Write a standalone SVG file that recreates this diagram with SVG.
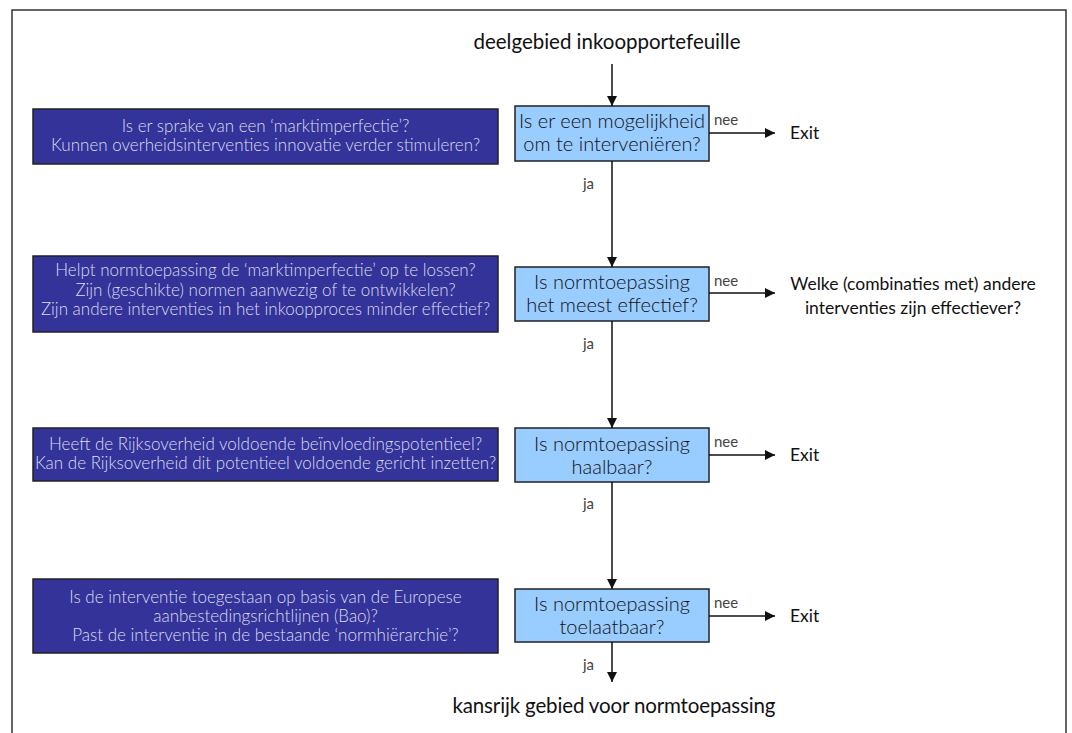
<svg xmlns="http://www.w3.org/2000/svg" width="1072" height="733" viewBox="0 0 1072 733">
  <defs>
    <marker id="arrow" viewBox="0 0 10 10" refX="10" refY="5" markerWidth="10" markerHeight="10" markerUnits="userSpaceOnUse" orient="auto">
      <path d="M0,0 L10,5 L0,10 z" fill="#111"/>
    </marker>
    <style>
      .frame { fill: none; stroke: #333; stroke-width: 1.5; }
      .crit rect { fill: #333399; stroke: #222; stroke-width: 1.5; }
      .crit text { font-family: Lato, "Liberation Sans", sans-serif; font-weight: 300; font-size: 17px; fill: #dcdcf0; text-anchor: middle; }
      .dec rect { fill: #99ccff; stroke: #222; stroke-width: 1.5; }
      .dec text { font-family: Lato, "Liberation Sans", sans-serif; font-weight: 300; font-size: 20px; fill: #111; text-anchor: middle; }
      .edge { stroke: #111; stroke-width: 1.5; fill: none; marker-end: url(#arrow); }
      .lbl { font-family: Lato, "Liberation Sans", sans-serif; font-weight: 400; font-size: 15px; fill: #444; }
      .term { font-family: Lato, "Liberation Sans", sans-serif; font-weight: 400; font-size: 20.5px; fill: #111; }
      .out { font-family: Lato, "Liberation Sans", sans-serif; font-weight: 400; font-size: 17.5px; fill: #111; }
    </style>
  </defs>

  <rect x="0" y="0" width="1072" height="733" fill="#fff"/>
  <path class="frame" d="M12,733 V10 H1066 V733"/>

  <!-- start and end terms -->
  <g id="start">
    <text class="term" x="607" y="49" text-anchor="middle" textLength="267">deelgebied inkoopportefeuille</text>
  </g>
  <g id="end">
    <text class="term" x="614" y="713" text-anchor="middle" textLength="323">kansrijk gebied voor normtoepassing</text>
  </g>

  <!-- criteria boxes (left column) -->
  <g id="crit1" class="crit">
    <rect x="33" y="109" width="465" height="55"/>
    <text x="265.5" y="132">Is er sprake van een ‘marktimperfectie’?</text>
    <text x="265.5" y="151">Kunnen overheidsinterventies innovatie verder stimuleren?</text>
  </g>
  <g id="crit2" class="crit">
    <rect x="33" y="256" width="465" height="76"/>
    <text x="265.5" y="276">Helpt normtoepassing de ‘marktimperfectie’ op te lossen?</text>
    <text x="265.5" y="295.5">Zijn (geschikte) normen aanwezig of te ontwikkelen?</text>
    <text x="265.5" y="315">Zijn andere interventies in het inkoopproces minder effectief?</text>
  </g>
  <g id="crit3" class="crit">
    <rect x="33" y="428" width="465" height="53"/>
    <text x="265.5" y="450">Heeft de Rijksoverheid voldoende beïnvloedingspotentieel?</text>
    <text x="265.5" y="469">Kan de Rijksoverheid dit potentieel voldoende gericht inzetten?</text>
  </g>
  <g id="crit4" class="crit">
    <rect x="33" y="579" width="465" height="74"/>
    <text x="265.5" y="603">Is de interventie toegestaan op basis van de Europese</text>
    <text x="265.5" y="622">aanbestedingsrichtlijnen (Bao)?</text>
    <text x="265.5" y="641">Past de interventie in de bestaande ‘normhiërarchie’?</text>
  </g>

  <!-- decision boxes (centre column) -->
  <g id="dec1" class="dec">
    <rect x="515" y="106" width="194" height="55"/>
    <text x="612" y="128">Is er een mogelijkheid</text>
    <text x="612" y="151">om te interveniëren?</text>
  </g>
  <g id="dec2" class="dec">
    <rect x="515" y="267" width="194" height="54"/>
    <text x="612" y="289">Is normtoepassing</text>
    <text x="612" y="312">het meest effectief?</text>
  </g>
  <g id="dec3" class="dec">
    <rect x="515" y="428" width="194" height="54"/>
    <text x="612" y="451">Is normtoepassing</text>
    <text x="612" y="474">haalbaar?</text>
  </g>
  <g id="dec4" class="dec">
    <rect x="515" y="589" width="194" height="53"/>
    <text x="612" y="611">Is normtoepassing</text>
    <text x="612" y="634">toelaatbaar?</text>
  </g>

  <!-- outcomes on the right -->
  <g id="exit1"><text class="out" x="790" y="139">Exit</text></g>
  <g id="alt2">
    <text class="out" x="913" y="290" text-anchor="middle">Welke (combinaties met) andere</text>
    <text class="out" x="913" y="314" text-anchor="middle">interventies zijn effectiever?</text>
  </g>
  <g id="exit3"><text class="out" x="790" y="461">Exit</text></g>
  <g id="exit4"><text class="out" x="790" y="622">Exit</text></g>

  <!-- connectors -->
  <g id="connectors">
    <line class="edge" x1="612" y1="64" x2="612" y2="106"/>
    <line class="edge" x1="612" y1="161" x2="612" y2="267"/>
    <line class="edge" x1="612" y1="321" x2="612" y2="428"/>
    <line class="edge" x1="612" y1="482" x2="612" y2="589"/>
    <line class="edge" x1="612" y1="642" x2="612" y2="682"/>
    <line class="edge" x1="709" y1="133" x2="775" y2="133"/>
    <line class="edge" x1="709" y1="293" x2="775" y2="293"/>
    <line class="edge" x1="709" y1="455" x2="775" y2="455"/>
    <line class="edge" x1="709" y1="616" x2="775" y2="616"/>
    <text class="lbl" x="714" y="125">nee</text>
    <text class="lbl" x="714" y="286">nee</text>
    <text class="lbl" x="714" y="447">nee</text>
    <text class="lbl" x="714" y="608">nee</text>
    <text class="lbl" x="583" y="189">ja</text>
    <text class="lbl" x="583" y="349">ja</text>
    <text class="lbl" x="583" y="509">ja</text>
    <text class="lbl" x="583" y="670">ja</text>
  </g>
</svg>
